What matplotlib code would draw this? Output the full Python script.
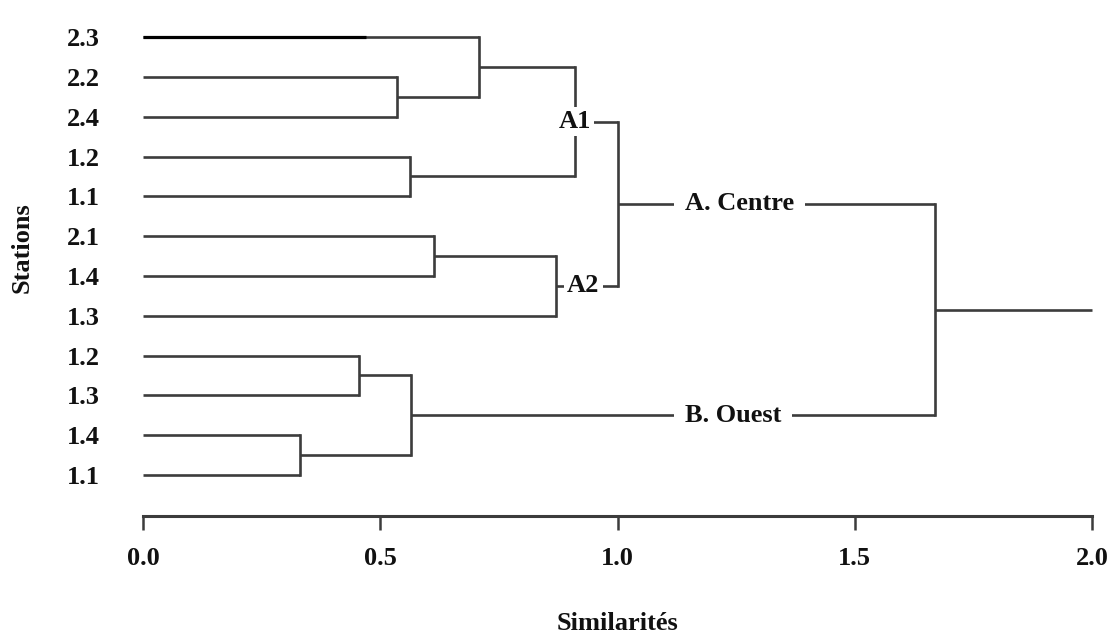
import matplotlib
matplotlib.use("Agg")
import matplotlib.pyplot as plt

# ---------------- data ----------------
leaf_labels = ["2.3", "2.2", "2.4", "1.2", "1.1", "2.1", "1.4", "1.3",
               "1.2", "1.3", "1.4", "1.1"]
# merges: (child_a, child_b, height); leaves are 0..11, new nodes 12..
merge_a = [1, 0, 3, 13, 5, 16, 15, 8, 10, 19, 18]
merge_b = [2, 12, 4, 14, 6, 7, 17, 9, 11, 20, 21]
merge_h = [0.535, 0.708, 0.563, 0.910, 0.613, 0.870, 1.000, 0.455, 0.331, 0.565, 1.669]
root_end = 2.0
x_ticks = [0.0, 0.5, 1.0, 1.5, 2.0]
x_ticklabels = ["0.0", "0.5", "1.0", "1.5", "2.0"]
# cluster labels: (node index, text, x position of label centre)
cluster_nodes = [15, 17, 18, 21]
cluster_texts = ["A1", "A2", "A. Centre", "B. Ouest"]
cluster_label_x = [0.910, 0.928, 1.257, 1.243]
cluster_label_pad = [0.12, 0.12, 0.4, 0.4]

# ---------------- figure ----------------
FONT = "Liberation Serif"
plt.rcParams["font.family"] = [FONT, "DejaVu Serif"]
plt.rcParams["font.weight"] = "bold"

W, H = 1108, 633
fig = plt.figure(figsize=(W / 100, H / 100), dpi=100)
ax = fig.add_axes([143 / W, (H - 516) / H, (1092 - 143) / W, (516 - 20) / H])

line_color = "#3c3c3c"
lw = 1.9

n = len(leaf_labels)
ypos = {i: n - 1 - i for i in range(n)}
xpos = {i: 0.0 for i in range(n)}
for k, (a, b, h) in enumerate(zip(merge_a, merge_b, merge_h)):
    node = n + k
    ax.plot([xpos[a], h], [ypos[a], ypos[a]], color=line_color, lw=lw,
            solid_capstyle="butt", clip_on=False, zorder=2)
    ax.plot([xpos[b], h], [ypos[b], ypos[b]], color=line_color, lw=lw,
            solid_capstyle="butt", clip_on=False, zorder=2)
    ax.plot([h, h], [ypos[a], ypos[b]], color=line_color, lw=lw,
            solid_capstyle="projecting", clip_on=False, zorder=2)
    xpos[node] = h
    ypos[node] = (ypos[a] + ypos[b]) / 2.0

root = n + len(merge_h) - 1
ax.plot([xpos[root], root_end], [ypos[root], ypos[root]], color=line_color,
        lw=lw, solid_capstyle="butt", clip_on=False, zorder=2)

# darker first segment of leaf 2.3
ax.plot([0, 0.47], [ypos[0], ypos[0]], color="black", lw=2.3,
        solid_capstyle="butt", zorder=3)

for node, txt, lx, pad in zip(cluster_nodes, cluster_texts, cluster_label_x, cluster_label_pad):
    ax.text(lx, ypos[node], txt, ha="center", va="center", fontsize=19,
            fontweight="bold", family=FONT, color="#111111", zorder=5,
            bbox=dict(boxstyle=f"square,pad={pad}", facecolor="white", edgecolor="none"))

ax.set_xlim(0, 2.0)
ax.set_ylim(-1.03, n - 1 + 0.43)

ax.set_yticks([ypos[i] for i in range(n)])
ax.set_yticklabels(leaf_labels, fontsize=19, fontweight="bold", family=FONT, color="#111111")
ax.tick_params(axis="y", length=0, pad=31)

ax.set_xticks(x_ticks)
ax.set_xticklabels(x_ticklabels, fontsize=19, fontweight="bold", family=FONT, color="#111111")
ax.tick_params(axis="x", length=10, width=1.8, color=line_color, pad=12, direction="out")

for s in ["top", "right", "left"]:
    ax.spines[s].set_visible(False)
ax.spines["bottom"].set_color(line_color)
ax.spines["bottom"].set_linewidth(2.2)

fig.text(617 / W, 1 - 623 / H, "Similarités", ha="center", va="center",
         fontsize=19, fontweight="bold", family=FONT, color="#111111")
fig.text(22 / W, 1 - 248 / H, "Stations", ha="center", va="center", rotation=90,
         fontsize=19, fontweight="bold", family=FONT, color="#111111")

fig.savefig("out.png", dpi=100, facecolor="white")
